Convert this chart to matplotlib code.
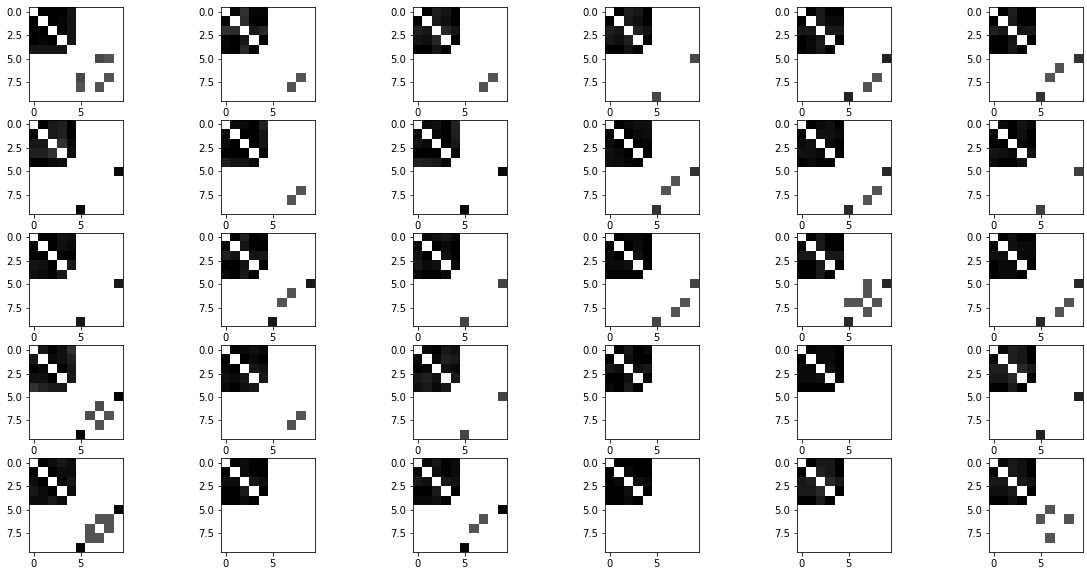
import numpy as np
import matplotlib
matplotlib.use("Agg")
import matplotlib.pyplot as plt

# Upper-triangle index pairs of the 5x5 top-left block (matrix is symmetric)
block_pairs = [(0, 1), (0, 2), (0, 3), (0, 4), (1, 2), (1, 3), (1, 4), (2, 3), (2, 4), (3, 4)]

# Darkness values (0 = white, 1 = black) for the block pairs, one list per panel
row1_blocks = [
    [1.00, 1.00, 1.00, 0.92, 1.00, 0.98, 0.92, 1.00, 0.92, 0.92],
    [0.97, 0.80, 0.98, 0.98, 0.83, 1.00, 1.00, 0.90, 0.84, 1.00],
    [1.00, 0.87, 0.92, 1.00, 0.90, 0.94, 1.00, 0.84, 0.92, 0.99],
    [1.00, 0.87, 0.90, 1.00, 0.90, 0.94, 1.00, 0.87, 0.93, 0.99],
    [1.00, 0.90, 1.00, 1.00, 0.90, 0.96, 0.96, 0.90, 0.90, 1.00],
    [1.00, 0.87, 1.00, 1.00, 0.90, 1.00, 1.00, 0.92, 0.90, 1.00],
]
row2_blocks = [
    [1.00, 0.90, 0.87, 1.00, 0.90, 0.87, 1.00, 0.80, 0.96, 0.94],
    [0.96, 0.96, 1.00, 0.87, 1.00, 1.00, 0.92, 1.00, 0.92, 0.97],
    [0.96, 0.93, 1.00, 0.86, 0.96, 1.00, 0.88, 1.00, 0.90, 0.96],
    [1.00, 0.96, 0.93, 0.94, 1.00, 0.96, 0.95, 1.00, 0.98, 1.00],
    [1.00, 0.96, 0.93, 1.00, 0.93, 0.93, 0.96, 0.96, 1.00, 1.00],
    [0.96, 1.00, 0.92, 0.96, 1.00, 0.93, 1.00, 0.96, 1.00, 0.93],
]
row3_blocks = [
    [1.00, 1.00, 0.92, 0.94, 1.00, 0.93, 0.96, 1.00, 1.00, 0.90],
    [1.00, 0.87, 1.00, 0.96, 0.92, 1.00, 1.00, 0.92, 0.90, 1.00],
    [0.96, 0.93, 0.90, 0.96, 1.00, 0.96, 1.00, 0.93, 1.00, 0.96],
    [1.00, 0.96, 0.96, 1.00, 1.00, 0.96, 1.00, 0.93, 1.00, 1.00],
    [1.00, 0.90, 1.00, 1.00, 0.90, 1.00, 1.00, 0.90, 0.90, 1.00],
    [1.00, 0.93, 1.00, 1.00, 0.93, 0.96, 0.96, 0.96, 0.96, 1.00],
]
row4_blocks = [
    [0.90, 1.00, 0.93, 0.80, 0.96, 0.93, 0.86, 1.00, 0.90, 0.90],
    [1.00, 0.96, 0.93, 0.96, 1.00, 0.96, 1.00, 0.90, 0.93, 0.90],
    [0.96, 1.00, 0.90, 0.93, 0.96, 0.87, 0.90, 0.93, 0.96, 0.90],
    [1.00, 0.90, 1.00, 0.96, 0.93, 1.00, 1.00, 0.93, 0.90, 1.00],
    [1.00, 0.96, 0.96, 1.00, 0.96, 0.96, 1.00, 0.93, 1.00, 1.00],
    [0.96, 0.87, 0.90, 1.00, 0.87, 0.90, 1.00, 0.84, 0.90, 1.00],
]
row5_blocks = [
    [1.00, 0.95, 0.90, 0.95, 1.00, 0.95, 0.95, 1.00, 0.90, 0.95],
    [1.00, 0.95, 1.00, 1.00, 0.95, 1.00, 1.00, 0.90, 0.95, 1.00],
    [0.96, 0.90, 1.00, 0.96, 0.93, 1.00, 0.96, 0.90, 0.93, 1.00],
    [1.00, 1.00, 1.00, 1.00, 0.96, 1.00, 1.00, 0.93, 0.96, 1.00],
    [1.00, 0.90, 0.90, 1.00, 0.87, 0.90, 1.00, 0.84, 0.90, 1.00],
    [0.96, 0.90, 0.93, 1.00, 0.90, 0.93, 1.00, 0.90, 0.93, 1.00],
]

# Sparse links in the lower-right part: (i, j, darkness), mirrored to (j, i)
row1_links = [
    [(5, 7, 0.72), (5, 8, 0.67), (7, 8, 0.67)],
    [(7, 8, 0.67)],
    [(7, 8, 0.67)],
    [(5, 9, 0.72)],
    [(5, 9, 0.86), (7, 8, 0.67)],
    [(5, 9, 0.80), (6, 7, 0.67)],
]
row2_links = [
    [(5, 9, 0.96)],
    [(7, 8, 0.67)],
    [(5, 9, 0.96)],
    [(5, 9, 0.80), (6, 7, 0.67)],
    [(5, 9, 0.84), (7, 8, 0.67)],
    [(5, 9, 0.75)],
]
row3_links = [
    [(5, 9, 0.90)],
    [(5, 9, 0.90), (6, 7, 0.67)],
    [(5, 9, 0.73)],
    [(5, 9, 0.73), (7, 8, 0.67)],
    [(5, 9, 0.84), (5, 7, 0.67), (6, 7, 0.67), (7, 8, 0.67)],
    [(5, 9, 0.84), (7, 8, 0.67)],
]
row4_links = [
    [(5, 9, 1.00), (6, 7, 0.70), (7, 8, 0.67)],
    [(7, 8, 0.67)],
    [(5, 9, 0.73)],
    [],
    [],
    [(5, 9, 0.87)],
]
row5_links = [
    [(5, 9, 0.98), (6, 7, 0.67), (6, 8, 0.67), (7, 8, 0.67)],
    [],
    [(5, 9, 0.98), (6, 7, 0.67)],
    [],
    [],
    [(5, 6, 0.67), (6, 8, 0.67)],
]

all_blocks = [row1_blocks, row2_blocks, row3_blocks, row4_blocks, row5_blocks]
all_links = [row1_links, row2_links, row3_links, row4_links, row5_links]

x_ticks = [0, 5]
y_ticks = [0, 2.5, 5, 7.5]
n = 10

W, H = 1087, 575
fig, axes = plt.subplots(5, 6, figsize=(W / 72, H / 72), dpi=72)
fig.subplots_adjust(left=28 / W, right=1084 / W, top=1 - 7 / H, bottom=1 - 552 / H,
                    wspace=1.0, hspace=0.202)

for r in range(5):
    for c in range(6):
        m = np.zeros((n, n))
        for (i, j), v in zip(block_pairs, all_blocks[r][c]):
            m[i, j] = v
            m[j, i] = v
        for i, j, v in all_links[r][c]:
            m[i, j] = v
            m[j, i] = v
        ax = axes[r, c]
        ax.imshow(m, cmap="gray_r", vmin=0, vmax=1, interpolation="nearest")
        ax.set_xticks(x_ticks)
        ax.set_yticks(y_ticks)

fig.savefig("out.png", dpi=72)
